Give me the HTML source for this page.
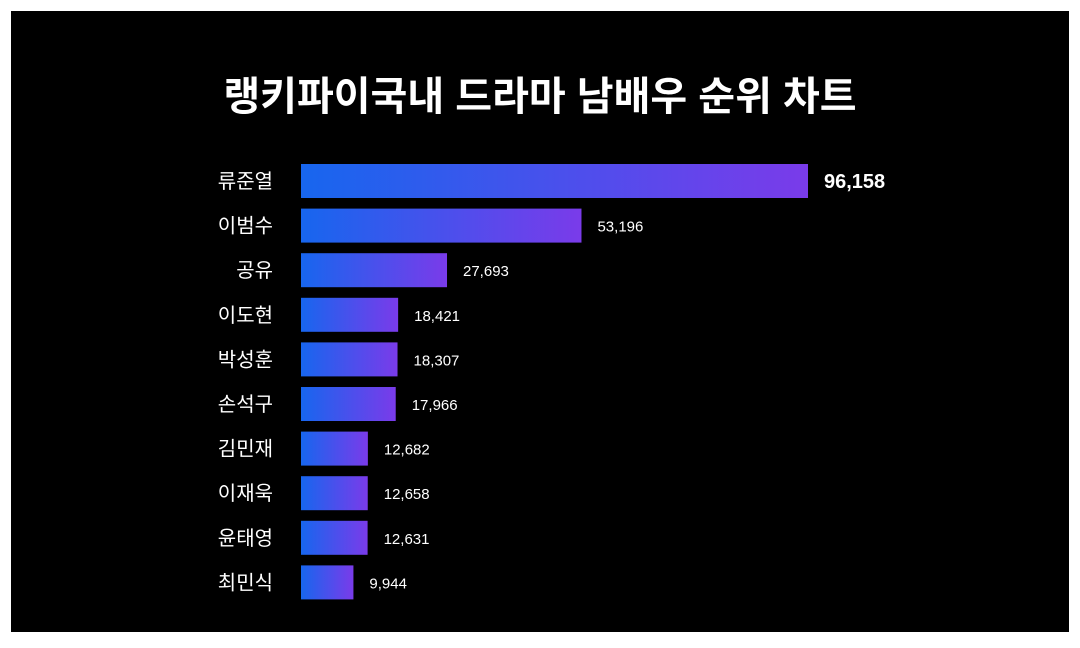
<!DOCTYPE html>
<html><head><meta charset="utf-8"><style>
html,body{margin:0;padding:0;background:#fff;}
#wrap{position:relative;width:1080px;height:648px;background:#fff;overflow:hidden;}
#panel{position:absolute;left:11px;top:11px;width:1058px;height:621px;background:#000;}
svg{position:absolute;left:0;top:0;}
text{font-family:"Liberation Sans","Noto Sans CJK KR",sans-serif;fill:#fff;}
</style></head><body>
<div id="wrap">
<div id="panel"></div>
<svg id="chart" width="1080" height="648">
<defs><linearGradient id="g" x1="0" x2="1" y1="0" y2="0"><stop offset="0" stop-color="#1766ee"/><stop offset="1" stop-color="#7a3bea"/></linearGradient></defs>
<text x="540" y="110" text-anchor="middle" font-size="40" font-weight="bold">랭키파이국내 드라마 남배우 순위 차트</text>
</svg>
</div>
<script>
const names = ["류준열","이범수","공유","이도현","박성훈","손석구","김민재","이재욱","윤태영","최민식"];
const values = [96158,53196,27693,18421,18307,17966,12682,12658,12631,9944];
const labels = ["96,158","53,196","27,693","18,421","18,307","17,966","12,682","12,658","12,631","9,944"];
const svg = document.getElementById('chart');
const NS = 'http://www.w3.org/2000/svg';
const x0 = 301, xMax = 808;
const xScale = v => x0 + (xMax - x0) * v / Math.max(...values);
const yCenter = i => 181 + i * 44.6;
const barH = 34;
names.forEach((n, i) => {
  const r = document.createElementNS(NS, 'rect');
  r.setAttribute('x', x0);
  r.setAttribute('y', yCenter(i) - barH / 2);
  r.setAttribute('width', xScale(values[i]) - x0);
  r.setAttribute('height', barH);
  r.setAttribute('fill', 'url(#g)');
  
  
  svg.appendChild(r);
  const t = document.createElementNS(NS, 'text');
  t.setAttribute('x', 273);
  t.setAttribute('y', yCenter(i) + 7);
  t.setAttribute('text-anchor', 'end');
  t.setAttribute('font-size', '20');
  t.textContent = n;
  
  
  svg.appendChild(t);
  const v = document.createElementNS(NS, 'text');
  v.setAttribute('x', xScale(values[i]) + 16);
  v.setAttribute('y', yCenter(i) + (i === 0 ? 7 : 6));
  v.setAttribute('font-size', i === 0 ? '20' : '15');
  if (i === 0) v.setAttribute('font-weight', 'bold');
  v.textContent = labels[i];
  
  
  svg.appendChild(v);
});
</script>
</body></html>
